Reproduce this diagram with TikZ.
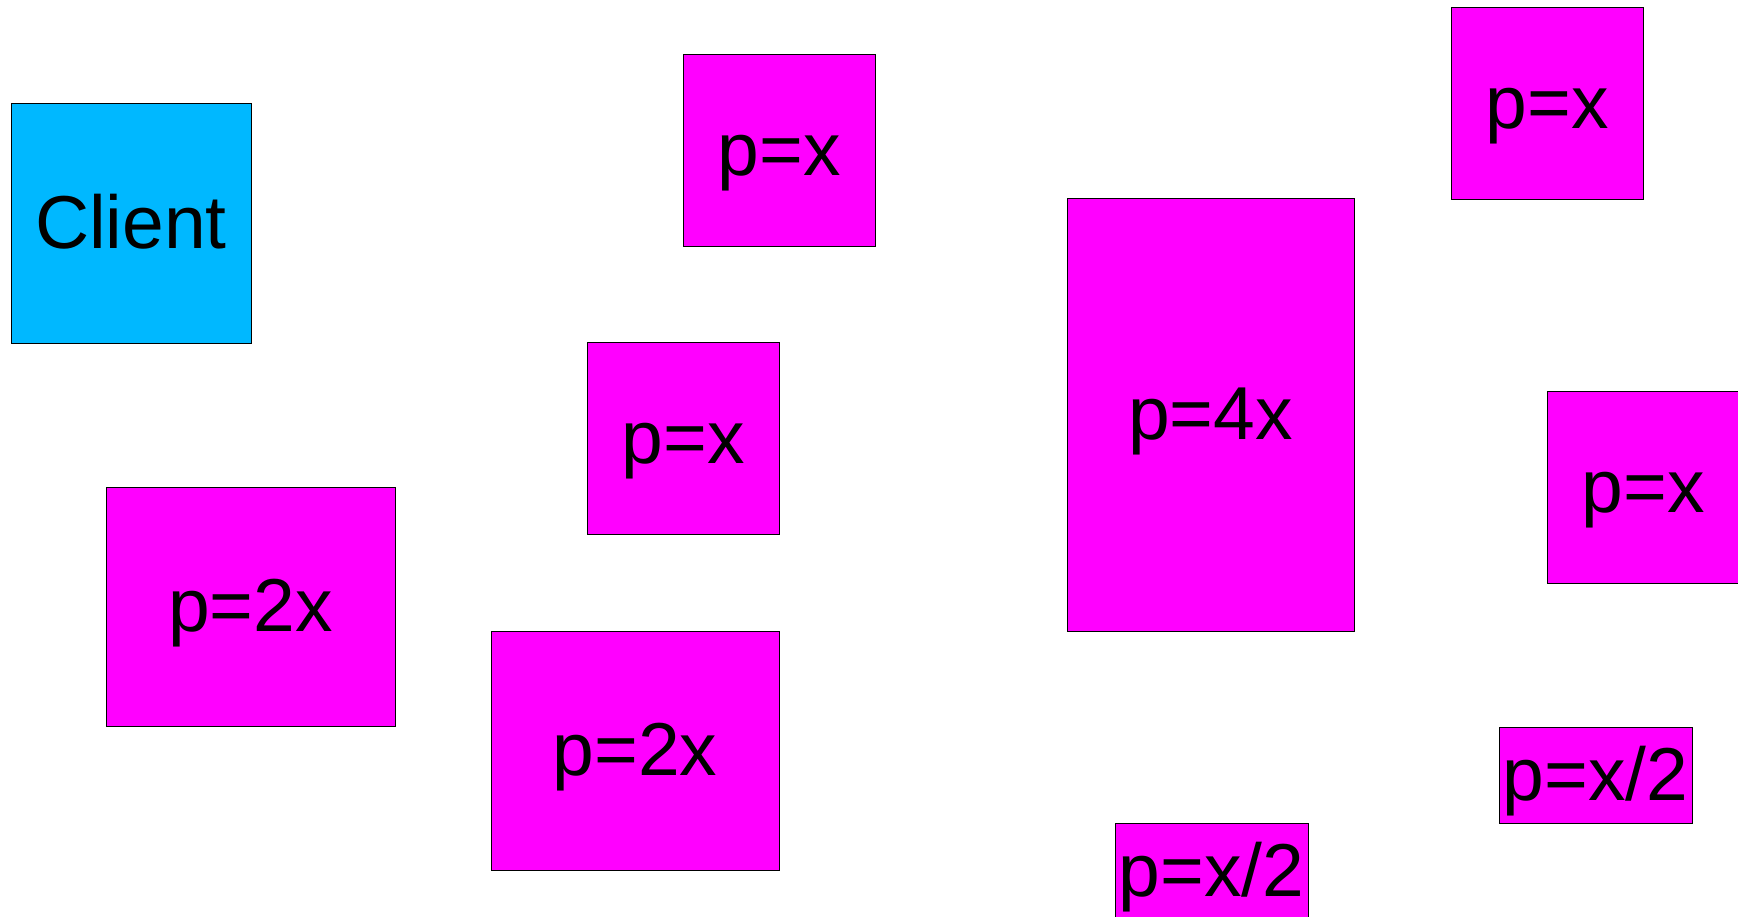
\documentclass[tikz,border=0pt]{standalone}
\usepackage{fontspec}
\setmainfont{Liberation Sans}
\begin{document}
\begin{tikzpicture}[x=1pt,y=-1pt,
  box/.style={draw=black,line width=0.9pt,fill=magenta,inner sep=0pt,
    text height=60pt,text depth=10pt,
    font=\fontsize{75}{82}\selectfont},
  client/.style={box,fill=clientblue}]
\definecolor{clientblue}{HTML}{00B8FF}
\definecolor{magenta}{HTML}{FF00FF}
\useasboundingbox (0,0) rectangle (1738,916);
\clip (0,0) rectangle (1738,916);
\node[client,minimum width=240pt,minimum height=240pt] (cl) at (131,223) {Client};
\node[box,minimum width=192pt,minimum height=192pt] (a) at (779,150) {p=x};
\node[box,minimum width=192pt,minimum height=192pt] (b) at (1547,103) {p=x};
\node[box,minimum width=287pt,minimum height=433pt] (c) at (1210.5,414.5) {p=4x};
\node[box,minimum width=192pt,minimum height=192pt] (d) at (683,438) {p=x};
\node[box,minimum width=192pt,minimum height=192pt] (e) at (1643,487) {p=x};
\node[box,minimum width=289pt,minimum height=239pt] (f) at (250.5,606.5) {p=2x};
\node[box,minimum width=288pt,minimum height=239pt] (g) at (635,750.5) {p=2x};
\node[box,minimum width=193pt,minimum height=96pt] (h) at (1211.5,871) {p=x/2};
\node[box,minimum width=193pt,minimum height=96pt] (i) at (1595.5,775) {p=x/2};
\end{tikzpicture}
\end{document}
